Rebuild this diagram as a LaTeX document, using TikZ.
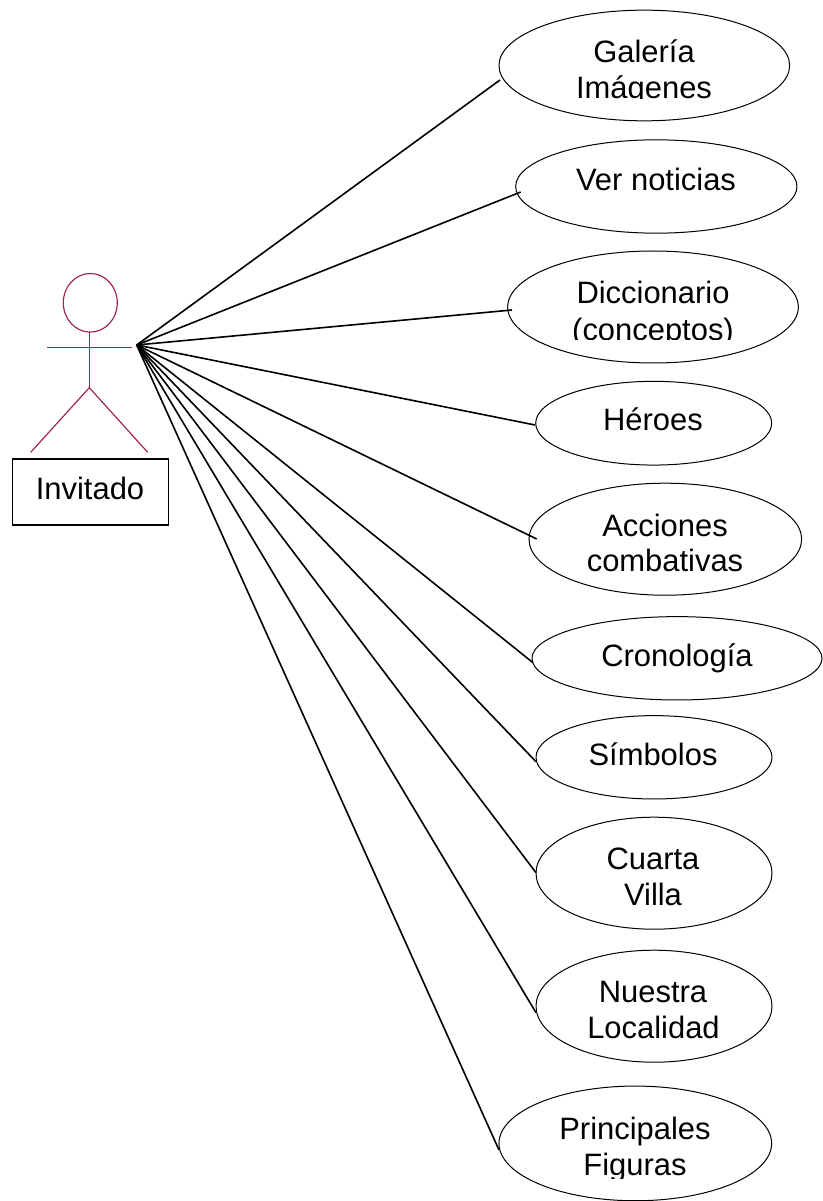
\documentclass[tikz,border=0pt]{standalone}
\usepackage{fontspec}
\setmainfont{Liberation Sans}
\usetikzlibrary{shapes.geometric}
\definecolor{actorc}{RGB}{160,30,80}
\tikzset{x=0.75pt,y=-0.75pt,
 uc/.style={draw=black,line width=0.75pt,ellipse,inner sep=0pt,outer sep=0pt},
 lbl/.style={font=\fontsize{23.2pt}{26pt}\selectfont,inner sep=0pt,anchor=base,yshift=-0.75pt},
 link/.style={draw=black,line width=1.2pt},
 act/.style={draw=actorc,line width=0.85pt}}
\begin{document}
\begin{tikzpicture}
\useasboundingbox (0,0) rectangle (822,1201);
\node[uc,minimum width=218pt,minimum height=83pt] (e1) at (644.3,65.5) {};
\node[uc,minimum width=211pt,minimum height=70pt] (e2) at (656.3,186.5) {};
\node[uc,minimum width=218pt,minimum height=84pt] (e3) at (653,307) {};
\node[uc,minimum width=177pt,minimum height=62.8pt] (e4) at (653.7,423.2) {};
\node[uc,minimum width=204.5pt,minimum height=84pt] (e5) at (665.3,539.2) {};
\node[uc,minimum width=217.5pt,minimum height=62.5pt] (e6) at (677,658.3) {};
\node[uc,minimum width=177pt,minimum height=62.5pt] (e7) at (654,757.3) {};
\node[uc,minimum width=177pt,minimum height=84pt] (e8) at (654,873.2) {};
\node[uc,minimum width=177pt,minimum height=84pt] (e9) at (654,1006.2) {};
\node[uc,minimum width=204.5pt,minimum height=86pt] (e10) at (635.3,1143.4) {};
% labels
\node[lbl] (t1a) at (644,61.7) {Galería};
\begin{scope}\clip (480,60) rectangle (822,98.5);
\node[lbl] (t1b) at (644,97.5) {Imágenes};\end{scope}
\node[lbl] (t2) at (656,190) {Ver noticias};
\node[lbl] (t3a) at (653,302.7) {Diccionario};
\begin{scope}\clip (480,300) rectangle (822,340);
\node[lbl] (t3b) at (653,339) {(conceptos)};\end{scope}
\node[lbl] (t4) at (653,429.3) {Héroes};
\node[lbl] (t5a) at (665,535) {Acciones};
\node[lbl] (t5b) at (665,570.7) {combativas};
\node[lbl] (t6) at (677,665) {Cronología};
\node[lbl] (t7) at (653,764) {Símbolos};
\node[lbl] (t8a) at (653,868.3) {Cuarta};
\node[lbl] (t8b) at (653,904.3) {Villa};
\node[lbl] (t9a) at (653,1001.7) {Nuestra};
\node[lbl] (t9b) at (653.5,1037.7) {Localidad};
\node[lbl] (t10a) at (635,1138.3) {Principales};
\begin{scope}\clip (480,1100) rectangle (822,1178);
\node[lbl] (t10b) at (635,1174) {Figuras};\end{scope}
% actor
\node[draw=actorc,line width=0.85pt,ellipse,minimum width=40.5pt,minimum height=44pt,inner sep=0pt,outer sep=0pt] (head) at (90.3,302.8) {};
\coordinate (neck) at (89.3,332.3);
\coordinate (hip) at (89.3,387.7);
\coordinate (armL) at (47,347.7);
\coordinate (armR) at (132,347.7);
\coordinate (footL) at (30.7,452.3);
\coordinate (footR) at (147.7,452.3);
\draw[act] (neck) -- (hip);
\draw[act] (armL) -- (armR);
\draw[act] (footL) -- (hip) -- (footR);
\node[draw=black,line width=1.1pt,minimum width=117pt,minimum height=49.5pt,inner sep=0pt] (inv) at (90.3,492) {};
\node[lbl] (tinv) at (90,498.3) {Invitado};
% connectors
\coordinate (hub) at (136.7,345);
\coordinate (c1) at (500,80);
\coordinate (c2) at (520.7,192);
\coordinate (c3) at (512,310);
\coordinate (c4) at (535,425);
\coordinate (c5) at (536.7,539);
\coordinate (c6) at (533,662.7);
\coordinate (c7) at (536,761.7);
\coordinate (c8) at (536,872.7);
\coordinate (c9) at (536,1012.7);
\coordinate (c10) at (499,1150);
\foreach \c in {c1,c2,c3,c4,c5,c6,c7,c8,c9,c10}{\draw[link] (hub) -- (\c);}
\end{tikzpicture}
\end{document}
